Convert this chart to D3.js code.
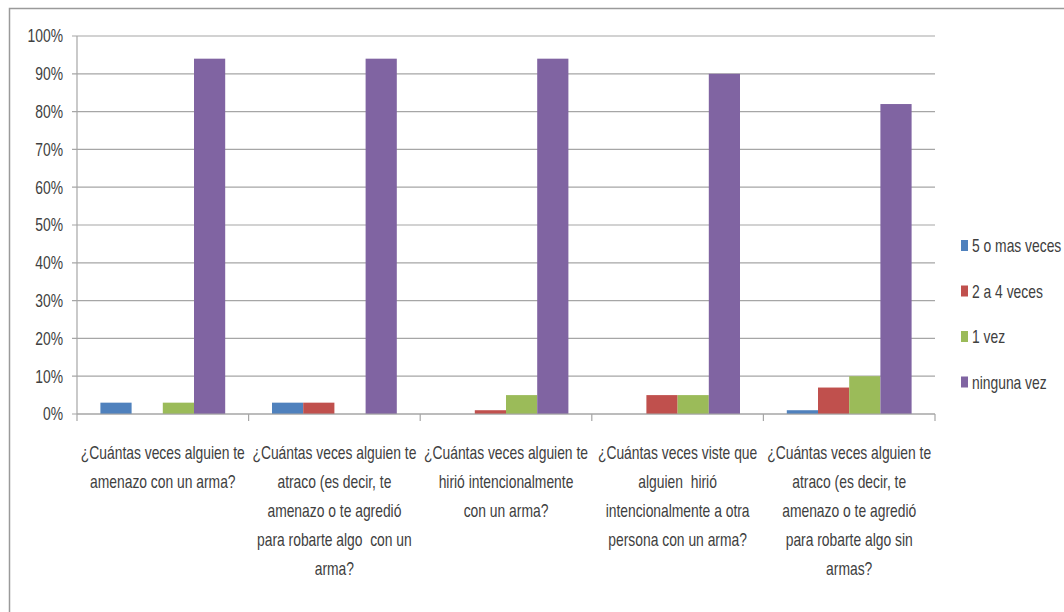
<!DOCTYPE html>
<html>
<head>
<meta charset="utf-8">
<script src="https://cdnjs.cloudflare.com/ajax/libs/d3/7.8.5/d3.min.js"></script>
<style>
  body { margin: 0; background: #fff; }
  text { font-family: "Liberation Sans", Arial, sans-serif; fill: #404040; white-space: pre; }
</style>
</head>
<body>
<svg id="chart" width="1064" height="612"></svg>
<script>
// data
const categories = [
  ['¿Cuántas veces alguien te', 'amenazo con un arma?'],
  ['¿Cuántas veces alguien te', 'atraco (es decir, te', 'amenazo o te agredió', 'para robarte algo  con un', 'arma?'],
  ['¿Cuántas veces alguien te', 'hirió intencionalmente', 'con un arma?'],
  ['¿Cuántas veces viste que', 'alguien  hirió', 'intencionalmente a otra', 'persona con un arma?'],
  ['¿Cuántas veces alguien te', 'atraco (es decir, te', 'amenazo o te agredió', 'para robarte algo sin', 'armas?']
];
const seriesNames = ['5 o mas veces', '2 a 4 veces', '1 vez', 'ninguna vez'];
const seriesColors = ['#4F81BD', '#C0504D', '#9BBB59', '#8064A2'];
const cincoOMas = [3, 3, 0, 0, 1];
const dosACuatro = [0, 3, 1, 5, 7];
const unaVez = [3, 0, 5, 5, 10];
const ningunaVez = [94, 94, 94, 90, 82];
const yTicks = [0, 10, 20, 30, 40, 50, 60, 70, 80, 90, 100];

const series = [cincoOMas, dosACuatro, unaVez, ningunaVez];

const svg = d3.select('#chart');
const squeeze = 'scale(0.77,1)'; // condensed look of the original font
const fontSize = 18;

// outer chart border
svg.append('rect')
  .attr('x', 9.5).attr('y', 8.5)
  .attr('width', 1070).attr('height', 620)
  .attr('fill', 'none').attr('stroke', '#9a9a9a').attr('stroke-width', 1.5);

const plotLeft = 77, plotRight = 935, plotTop = 36, plotBottom = 414;

const x = d3.scaleBand()
  .domain(d3.range(categories.length))
  .range([plotLeft, plotRight])
  .paddingInner(0).paddingOuter(0);

const xs = d3.scaleBand()
  .domain(d3.range(series.length))
  .range([0, x.bandwidth()])
  .paddingOuter(0.75).paddingInner(0);

const y = d3.scaleLinear().domain([0, 100]).range([plotBottom, plotTop]);

// gridlines
svg.append('g')
  .selectAll('line')
  .data(yTicks)
  .join('line')
  .attr('x1', plotLeft - 5).attr('x2', plotRight)
  .attr('y1', d => y(d)).attr('y2', d => y(d))
  .attr('stroke', '#a6a6a6').attr('stroke-width', 1.2);

// y axis line
svg.append('line')
  .attr('x1', plotLeft).attr('x2', plotLeft)
  .attr('y1', plotTop).attr('y2', plotBottom)
  .attr('stroke', '#a6a6a6').attr('stroke-width', 1.2);

// y labels
svg.append('g')
  .selectAll('text')
  .data(yTicks)
  .join('text')
  .attr('transform', d => `translate(63,${y(d)}) ${squeeze}`)
  .attr('dy', '0.35em')
  .attr('text-anchor', 'end')
  .attr('font-size', fontSize)
  .text(d => d + '%');

// bars
svg.append('g')
  .selectAll('g')
  .data(series)
  .join('g')
  .attr('fill', (d, i) => seriesColors[i])
  .each(function(vals, si) {
    d3.select(this).selectAll('rect')
      .data(vals)
      .join('rect')
      .attr('x', (d, ci) => x(ci) + xs(si))
      .attr('width', xs.bandwidth())
      .attr('y', d => y(d))
      .attr('height', d => y(0) - y(d));
  });

// x axis line and category ticks
svg.append('line')
  .attr('x1', plotLeft).attr('x2', plotRight)
  .attr('y1', plotBottom).attr('y2', plotBottom)
  .attr('stroke', '#a6a6a6').attr('stroke-width', 1.2);

svg.append('g')
  .selectAll('line')
  .data(d3.range(categories.length + 1))
  .join('line')
  .attr('x1', d => plotLeft + d * x.bandwidth())
  .attr('x2', d => plotLeft + d * x.bandwidth())
  .attr('y1', plotBottom).attr('y2', plotBottom + 7)
  .attr('stroke', '#a6a6a6').attr('stroke-width', 1.2);

// category labels
svg.append('g')
  .selectAll('text')
  .data(categories)
  .join('text')
  .attr('text-anchor', 'middle')
  .attr('font-size', fontSize)
  .attr('transform', (d, ci) => `translate(${x(ci) + x.bandwidth() / 2},459) ${squeeze}`)
  .each(function(lines) {
    d3.select(this).selectAll('tspan')
      .data(lines)
      .join('tspan')
      .attr('x', 0)
      .attr('y', (d, li) => li * 29)
      .text(d => d);
  });

// legend
const legend = svg.append('g')
  .selectAll('g')
  .data(seriesNames)
  .join('g')
  .attr('transform', (d, i) => `translate(961, ${246 + i * 45.5})`);

legend.append('rect')
  .attr('x', 0).attr('y', -6)
  .attr('width', 7).attr('height', 11)
  .attr('fill', (d, i) => seriesColors[i]);

legend.append('text')
  .attr('transform', `translate(11,0) ${squeeze}`)
  .attr('dy', '0.35em')
  .attr('font-size', fontSize)
  .text(d => d);
</script>
</body>
</html>
